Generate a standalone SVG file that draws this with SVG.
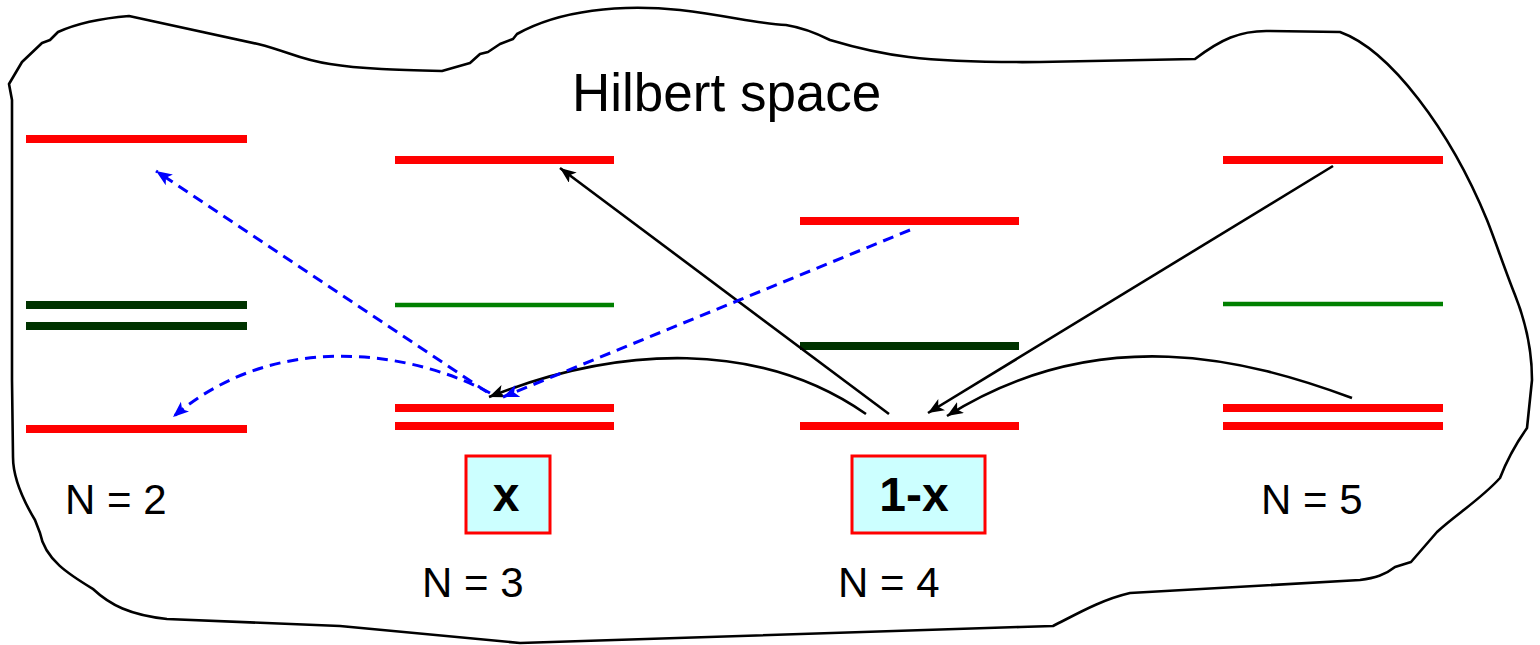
<svg xmlns="http://www.w3.org/2000/svg" width="1540" height="645" viewBox="0 0 1540 645">
<style>
.blob{fill:none;stroke:#000;stroke-width:2.6;stroke-linejoin:round}
.red{stroke:#FF0000;stroke-width:8;fill:none}
.dg{stroke:#003300;stroke-width:8;fill:none}
.gr{stroke:#008000;stroke-width:4.5;fill:none}
.lbl{font-family:"Liberation Sans",Arial,sans-serif;font-size:42px;fill:#000}
.title{font-family:"Liberation Sans",Arial,sans-serif;font-size:53px;fill:#000}
.box{fill:#CCFFFF;stroke:#FF0000;stroke-width:3}
.boxt{font-family:"Liberation Sans",Arial,sans-serif;font-size:48px;font-weight:bold;fill:#000;text-anchor:middle}
.blk{fill:none;stroke:#000;stroke-width:2.6;marker-end:url(#ab)}
.blu{fill:none;stroke:#0000FF;stroke-width:3;stroke-dasharray:11 7;marker-end:url(#au)}
</style>
<defs>
<marker id="ab" markerUnits="userSpaceOnUse" markerWidth="18" markerHeight="14" refX="16" refY="6.5" orient="auto">
<path d="M0,0 L16,6.5 L0,13 L4,6.5 Z" fill="#000"/>
</marker>
<marker id="au" markerUnits="userSpaceOnUse" markerWidth="18" markerHeight="14" refX="16" refY="6.5" orient="auto">
<path d="M0,0 L16,6.5 L0,13 L4,6.5 Z" fill="#0000FF"/>
</marker>
</defs>
<rect width="1540" height="645" fill="#fff"/>
<g id="hilbert-space">
<path class="blob" d="M12,100 L9,84 L22,62 L42,43 L50,40 L58,32 C80,22 105,18 129,16 L258,44 C290,52 300,60 330,64 C360,69 400,70 442,71 L470,63 L480,54 L488,52 L500,44 L513,39 L517,34 C560,10 620,4 680,10 C730,16 760,24 786,25 C805,28 820,35 830,40 C880,55 920,63 1040,62 L1195,59 C1220,40 1240,30 1270,31 L1340,32 C1390,50 1450,130 1487,220 C1495,240 1505,270 1515,295 C1525,320 1532,350 1532,380 L1527,428 C1515,445 1505,465 1500,478 C1480,500 1455,515 1437,532 L1411,562 L1395,567 C1385,575 1375,578 1360,580 L1130,593 C1100,600 1075,615 1053,626 L1020,627 L520,643 L340,626 L167,619 C130,615 110,605 93,589 C70,575 45,560 40,533 L35,520 C20,495 13,475 13,457 L12,380 Z"/>
<text class="title" x="572" y="111">Hilbert space</text>
</g>
<g id="n2">
<line class="red" x1="26" y1="139" x2="247" y2="139"/>
<line class="dg" x1="26" y1="305" x2="247" y2="305"/>
<line class="dg" x1="26" y1="326" x2="247" y2="326"/>
<line class="red" x1="26" y1="429" x2="247" y2="429"/>
<text class="lbl" x="65" y="514">N = 2</text>
</g>
<g id="n3">
<line class="red" x1="395" y1="160" x2="614" y2="160"/>
<line class="gr" x1="395" y1="305" x2="614" y2="305"/>
<line class="red" x1="395" y1="408" x2="614" y2="408"/>
<line class="red" x1="395" y1="426" x2="614" y2="426"/>
<text class="lbl" x="422" y="597">N = 3</text>
</g>
<g id="weight-x">
<rect class="box" x="466" y="456" width="84" height="77"/>
<text class="boxt" x="506" y="511">x</text>
</g>
<g id="n4">
<line class="red" x1="800" y1="221" x2="1019" y2="221"/>
<line class="dg" x1="800" y1="346" x2="1019" y2="346"/>
<line class="red" x1="800" y1="426" x2="1019" y2="426"/>
<text class="lbl" x="838" y="597">N = 4</text>
</g>
<g id="weight-1-x">
<rect class="box" x="852" y="456" width="133" height="77"/>
<text class="boxt" x="914" y="511">1-x</text>
</g>
<g id="n5">
<line class="red" x1="1223" y1="160" x2="1443" y2="160"/>
<line class="gr" x1="1223" y1="304" x2="1443" y2="304"/>
<line class="red" x1="1223" y1="408" x2="1443" y2="408"/>
<line class="red" x1="1223" y1="426" x2="1443" y2="426"/>
<text class="lbl" x="1261" y="514">N = 5</text>
</g>
<g id="connectors">
<path class="blk" d="M889,414 L560,168"/>
<path class="blk" d="M1333,166 L928,413"/>
<path class="blk" d="M1352,398 C1250,360 1100,320 947,416"/>
<path class="blk" d="M866,414 C760,340 620,345 489,397"/>
<path class="blu" d="M487,392 L156,171"/>
<path class="blu" d="M490,393 C420,355 280,325 173,417"/>
<path class="blu" d="M910,230 L503,397"/>
</g>
</svg>
